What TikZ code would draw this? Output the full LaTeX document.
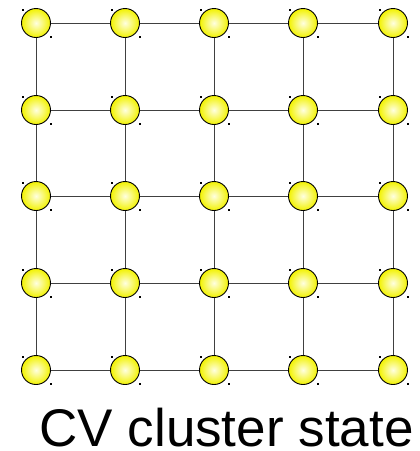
\documentclass[tikz,border=0pt]{standalone}
\usepackage{fontspec}
\setmainfont{Liberation Sans}
\begin{document}
\begin{tikzpicture}[x=1pt,y=-1pt,
  mode/.style={circle,draw=black,line width=0.9pt,minimum size=29pt,inner sep=0pt,
    inner color=yellow!12!white,outer color=yellow!95!black},
  bond/.style={draw=black!75,line width=0.9pt},
  handle/.style={fill=black,inner sep=0pt,minimum size=1.6pt,rectangle}]
  \useasboundingbox (0,0) rectangle (420,451);
  % 5x5 square lattice of modes
  \foreach \i/\x in {1/36,2/125,3/214,4/303,5/393}{
    \foreach \j/\y in {1/23,2/110,3/196,4/283,5/370}{
      \coordinate (p\i\j) at (\x,\y);
    }
  }
  % nearest-neighbour bonds
  \foreach \i in {1,...,5}{
    \foreach \j [evaluate=\j as \k using int(\j+1)] in {1,...,4}{
      \draw[bond] (p\i\j) -- (p\i\k);
      \draw[bond] (p\j\i) -- (p\k\i);
    }
  }
  % modes with their small corner marks
  \foreach \i in {1,...,5}{
    \foreach \j in {1,...,5}{
      \node[mode] (m\i\j) at (p\i\j) {};
      \node[handle] (a\i\j) at ([shift={(-13,-13)}]p\i\j) {};
      \node[handle] (b\i\j) at ([shift={(15,14)}]p\i\j) {};
    }
  }
  \node[anchor=base,inner sep=0pt] (title) at (226.5,446)
    {\fontsize{53}{60}\selectfont CV cluster state};
\end{tikzpicture}
\end{document}
